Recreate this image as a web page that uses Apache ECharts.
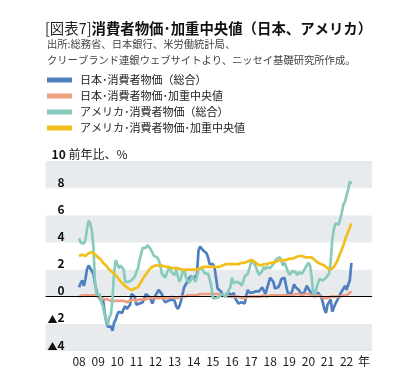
<!DOCTYPE html>
<html><head><meta charset="utf-8">
<script src="https://cdn.jsdelivr.net/npm/echarts@6/dist/echarts.min.js"></script>
<style>html,body{margin:0;padding:0;background:#fff}#c{width:417px;height:386px}</style>
</head><body><div id="c"></div>
<script>
// Monthly data, Jan 2008 - Apr 2022 (y/y %)
const jpCPI = [
 0.7,1.0,1.2,0.8,1.3,2.0,2.3,2.1,2.1,1.7,1.0,0.4,
 0.0,-0.1,-0.3,-0.1,-1.1,-1.8,-2.2,-2.2,-2.2,-2.5,-1.9,-1.7,
 -1.3,-1.1,-1.1,-1.2,-0.9,-0.7,-0.9,-0.9,-0.6,0.2,0.1,0.0,
 -0.6,-0.5,-0.5,-0.4,-0.4,-0.4,0.2,0.2,0.0,-0.2,-0.5,-0.2,
 0.1,0.3,0.5,0.4,0.2,-0.2,-0.4,-0.4,-0.3,-0.4,-0.2,-0.1,
 -0.3,-0.7,-0.9,-0.7,-0.3,0.2,0.7,0.9,1.1,1.1,1.5,1.6,
 1.4,1.5,1.6,3.4,3.7,3.6,3.4,3.3,3.2,2.9,2.4,2.4,
 2.4,2.2,2.3,0.6,0.5,0.4,0.2,0.2,0.0,0.3,0.3,0.2,
 0.0,0.3,-0.1,-0.3,-0.5,-0.4,-0.4,-0.5,-0.5,0.1,0.5,0.3,
 0.4,0.3,0.2,0.4,0.4,0.4,0.4,0.7,0.7,0.2,0.6,1.0,
 1.4,1.5,1.1,0.6,0.7,0.7,0.9,1.3,1.2,1.4,0.8,0.3,
 0.2,0.2,0.5,0.9,0.7,0.7,0.5,0.3,0.2,0.2,0.5,0.8,
 0.7,0.4,0.4,0.1,0.1,0.1,0.3,0.2,0.0,-0.4,-0.9,-1.2,
 -0.6,-0.4,-0.2,-1.1,-0.8,-0.5,-0.3,-0.4,0.2,0.1,0.6,0.8,
 0.5,0.9,1.2,2.5
];
const jpMedian = [
 0.0,0.0,0.1,0.1,0.1,0.2,0.1,0.2,0.1,0.1,0.1,0.0,
 0.0,-0.1,-0.1,-0.1,-0.2,-0.2,-0.2,-0.3,-0.3,-0.3,-0.3,-0.3,
 -0.3,-0.4,-0.3,-0.4,-0.3,-0.3,-0.4,-0.3,-0.3,-0.3,-0.2,-0.3,
 -0.3,-0.3,-0.2,-0.3,-0.2,-0.2,-0.2,-0.2,-0.1,-0.2,-0.1,-0.1,
 -0.1,-0.1,-0.1,-0.1,-0.1,-0.1,-0.1,-0.1,-0.1,-0.1,0.0,-0.1,
 -0.1,0.0,-0.1,0.0,0.0,0.0,0.0,0.1,0.1,0.1,0.1,0.1,
 0.1,0.1,0.1,0.2,0.2,0.2,0.2,0.2,0.2,0.2,0.2,0.2,
 0.2,0.2,0.2,0.1,0.2,0.2,0.1,0.1,0.1,0.1,0.0,0.0,
 0.0,0.0,0.0,0.0,0.0,-0.1,-0.1,-0.1,-0.1,-0.1,0.0,0.0,
 0.0,0.0,0.0,0.0,0.0,0.0,0.0,0.1,0.1,0.1,0.0,0.1,
 0.1,0.1,0.1,0.2,0.1,0.1,0.1,0.1,0.1,0.2,0.1,0.1,
 0.1,0.1,0.1,0.2,0.2,0.2,0.2,0.2,0.1,0.1,0.2,0.2,
 0.2,0.2,0.1,0.1,0.0,0.0,0.1,0.0,0.0,0.0,-0.1,-0.1,
 -0.1,-0.1,0.0,0.0,0.0,0.0,0.0,0.0,0.0,0.1,0.1,0.1,
 0.1,0.2,0.3,0.4
];
const usCPI = [
 4.3,4.0,4.0,3.9,4.2,5.0,5.6,5.4,4.9,3.7,1.1,0.1,
 0.0,0.2,-0.4,-0.7,-1.3,-1.4,-2.1,-1.5,-1.3,-0.2,1.8,2.7,
 2.6,2.1,2.3,2.2,2.0,1.1,1.2,1.1,1.1,1.2,1.1,1.5,
 1.6,2.1,2.7,3.2,3.6,3.6,3.6,3.8,3.9,3.5,3.4,3.0,
 2.9,2.9,2.7,2.3,1.7,1.7,1.4,1.7,2.0,2.2,1.8,1.7,
 1.6,2.0,1.5,1.1,1.4,1.8,2.0,1.5,1.2,1.0,1.2,1.5,
 1.6,1.1,1.5,2.0,2.1,2.1,2.0,1.7,1.7,1.7,1.3,0.8,
 -0.1,0.0,-0.1,-0.2,0.0,0.1,0.2,0.2,0.0,0.2,0.5,0.7,
 1.4,1.0,0.9,1.1,1.0,1.0,0.8,1.1,1.5,1.6,1.7,2.1,
 2.5,2.7,2.4,2.2,1.9,1.6,1.7,1.9,2.2,2.0,2.2,2.1,
 2.1,2.2,2.4,2.5,2.8,2.9,2.9,2.7,2.3,2.5,2.2,1.9,
 1.6,1.5,1.9,2.0,1.8,1.6,1.8,1.7,1.7,1.8,2.1,2.3,
 2.5,2.3,1.5,0.3,0.1,0.6,1.0,1.3,1.4,1.2,1.2,1.4,
 1.4,1.7,2.6,4.2,5.0,5.4,5.4,5.3,5.4,6.2,6.8,7.0,
 7.5,7.9,8.5,8.3
];
const usMedian = [
 3.0,3.0,3.1,3.0,3.0,3.1,3.2,3.3,3.3,3.2,3.1,3.0,
 2.9,2.8,2.7,2.5,2.4,2.3,2.2,2.0,1.9,1.8,1.7,1.6,
 1.5,1.3,1.2,1.0,0.9,0.8,0.7,0.6,0.6,0.5,0.6,0.6,
 0.6,0.7,0.9,1.1,1.3,1.5,1.6,1.8,2.0,2.1,2.2,2.3,
 2.3,2.3,2.3,2.3,2.3,2.2,2.2,2.2,2.2,2.2,2.1,2.1,
 2.1,2.1,2.1,2.0,2.0,2.0,2.0,2.0,2.0,2.0,2.0,2.0,
 2.0,2.0,2.0,2.1,2.1,2.2,2.2,2.2,2.2,2.2,2.2,2.2,
 2.2,2.2,2.2,2.2,2.2,2.3,2.3,2.3,2.4,2.4,2.4,2.4,
 2.4,2.4,2.4,2.4,2.4,2.4,2.5,2.5,2.5,2.6,2.6,2.7,
 2.7,2.8,2.6,2.5,2.4,2.3,2.3,2.3,2.4,2.4,2.4,2.5,
 2.5,2.6,2.5,2.6,2.6,2.7,2.7,2.8,2.7,2.7,2.7,2.8,
 2.8,2.8,2.8,2.9,2.9,3.0,3.0,3.0,3.0,2.9,2.9,2.9,
 2.9,2.9,2.9,2.8,2.7,2.6,2.5,2.4,2.4,2.3,2.3,2.2,
 2.1,2.0,2.0,2.1,2.2,2.3,2.6,2.9,3.2,3.5,3.8,4.2,
 4.5,4.8,5.1,5.4
];
const seriesNames = ['日本･消費者物価（総合）','日本･消費者物価･加重中央値','アメリカ･消費者物価（総合）','アメリカ･消費者物価･加重中央値'];
const seriesColors = ['#4f7fc0','#ee9e82','#88cbbd','#f2bf1a'];
const yearLabels = ['08','09','10','11','12','13','14','15','16','17','18','19','20','21','22'];

// monthly categories Apr 2006 - May 2023
const categories = [];
for (let y = 2006; y <= 2023; y++) for (let m = 1; m <= 12; m++) {
  if ((y === 2006 && m < 4) || (y === 2023 && m > 5)) continue;
  categories.push(y + '-' + String(m).padStart(2, '0'));
}
const offset = categories.indexOf('2008-01');
function pad(arr) { const out = new Array(categories.length).fill(null); arr.forEach((v, i) => out[offset + i] = v); return out; }
function isYearTick(v) { return v.endsWith('-01') && yearLabels.indexOf(v.slice(2, 4)) >= 0; }

const FONT = '"Noto Sans CJK JP","Noto Sans",sans-serif';
const chart = echarts.init(document.getElementById('c'), null, {renderer: 'canvas'});
const dataSets = [jpCPI, jpMedian, usCPI, usMedian];
const series = dataSets.map((d, i) => ({
  name: seriesNames[i], type: 'line', data: pad(d), showSymbol: false, symbol: 'none',
  lineStyle: {width: 2.7, color: seriesColors[i]}, itemStyle: {color: seriesColors[i]},
  connectNulls: false, z: 3 + i
}));
series[0].markLine = {
  symbol: ['none', 'none'], silent: true, label: {show: false}, animation: false,
  lineStyle: {color: '#000', width: 1, type: 'solid'}, emphasis: {disabled: true},
  data: [{yAxis: 0}]
};
chart.setOption({
  animation: false,
  textStyle: {fontFamily: FONT},
  title: [
    {text: '{a|[図表7]}{b|消費者物価･加重中央値（日本、アメリカ）}', left: 45, top: 20, padding: 0,
     textStyle: {rich: {
       a: {fontFamily: FONT, fontSize: 14.4, fontWeight: 'normal', color: '#222', lineHeight: 17},
       b: {fontFamily: FONT, fontSize: 14.4, fontWeight: 'bold', color: '#111', lineHeight: 17}}}},
    {text: '出所:総務省、日本銀行、米労働統計局、\nクリーブランド連銀ウェブサイトより、ニッセイ基礎研究所作成。', left: 47, top: 36, padding: 0,
     textStyle: {fontFamily: FONT, fontSize: 10.3, fontWeight: 'normal', color: '#444', lineHeight: 16}}
  ],
  legend: {
    orient: 'vertical', left: 47, top: 74.5, padding: 0, itemWidth: 25, itemHeight: 5, itemGap: 5, icon: 'rect',
    data: seriesNames,
    textStyle: {fontFamily: FONT, fontSize: 11, color: '#222', lineHeight: 11, padding: [0, 0, 0, 3]}
  },
  grid: {left: 45.6, right: 44.9, top: 161, bottom: 35},
  xAxis: {
    type: 'category', data: categories, boundaryGap: false,
    axisLine: {show: false, onZero: false}, axisTick: {show: false}, splitLine: {show: false},
    name: '年', nameLocation: 'end', nameGap: -14,
    nameTextStyle: {fontFamily: FONT, fontSize: 12, color: '#222', align: 'left', verticalAlign: 'top', padding: [4, 0, 0, 0]},
    axisLabel: {
      margin: 4, fontFamily: FONT, fontSize: 12, color: '#222', hideOverlap: false,
      interval: (i, v) => isYearTick(v),
      formatter: v => isYearTick(v) ? v.slice(2, 4) : ''
    }
  },
  yAxis: {
    type: 'value', min: -4, max: 10, interval: 2,
    axisLine: {show: false}, axisTick: {show: false}, splitLine: {show: false},
    splitArea: {show: true, areaStyle: {color: ['#e8ebee', '#ffffff']}},
    name: '{n|10} 前年比、%', nameLocation: 'end', nameGap: 1,
    nameTextStyle: {fontFamily: FONT, fontSize: 12, color: '#222', align: 'left', verticalAlign: 'bottom', padding: [0, 0, 0, 6],
      rich: {n: {fontFamily: FONT, fontSize: 12, fontWeight: 'bold', color: '#111'}}},
    axisLabel: {
      margin: -19, fontFamily: FONT, fontSize: 12, fontWeight: 'bold', color: '#111', verticalAlign: 'bottom',
      formatter: v => v === 10 ? '' : (v < 0 ? '{t|▲}' + (-v) : String(v)),
      rich: {t: {fontFamily: FONT, fontSize: 10, fontWeight: 'bold', color: '#111', verticalAlign: 'bottom'}}
    }
  },
  series: series
});
</script></body></html>
